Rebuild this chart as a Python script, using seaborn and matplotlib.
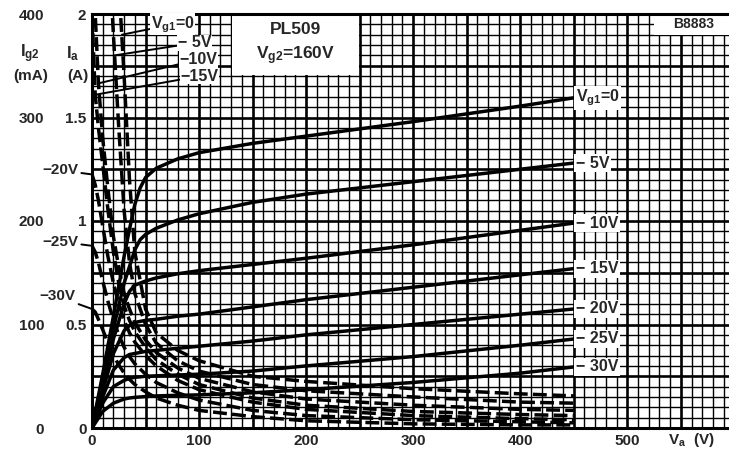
import numpy as np
import seaborn as sns
import matplotlib.pyplot as plt
from matplotlib.patches import Rectangle

# Anodenstrom Ia (A) ueber Va (V), je Vg1
va_ia = [0, 10, 20, 30, 35, 40, 45, 50, 60, 80, 100, 150, 200, 300, 400, 450]
ia_g0 = [0, 0.26, 0.54, 0.83, 0.96, 1.08, 1.16, 1.21, 1.255, 1.30, 1.33, 1.375, 1.41, 1.48, 1.555, 1.595]
ia_g5 = [0, 0.23, 0.48, 0.70, 0.78, 0.86, 0.91, 0.935, 0.965, 1.005, 1.035, 1.09, 1.13, 1.19, 1.25, 1.28]
ia_g10 = [0, 0.21, 0.43, 0.60, 0.66, 0.69, 0.70, 0.71, 0.725, 0.745, 0.76, 0.79, 0.82, 0.885, 0.955, 0.99]
ia_g15 = [0, 0.18, 0.36, 0.47, 0.495, 0.51, 0.515, 0.52, 0.525, 0.54, 0.55, 0.585, 0.62, 0.68, 0.74, 0.77]
ia_g20 = [0, 0.15, 0.28, 0.34, 0.355, 0.36, 0.365, 0.37, 0.375, 0.385, 0.395, 0.42, 0.45, 0.50, 0.55, 0.575]
ia_g25 = [0, 0.12, 0.20, 0.23, 0.24, 0.245, 0.247, 0.25, 0.252, 0.256, 0.26, 0.275, 0.30, 0.345, 0.40, 0.43]
ia_g30 = [0, 0.08, 0.12, 0.14, 0.145, 0.148, 0.15, 0.152, 0.155, 0.158, 0.16, 0.17, 0.185, 0.22, 0.265, 0.295]

# Schirmgitterstrom Ig2 (mA) ueber Va (V), je Vg1 (gestrichelt)
va_ig2 = [0, 3, 6, 10, 15, 20, 25, 30, 35, 40, 50, 60, 80, 100, 150, 200, 300, 400, 450]
ig2_g0 = [700, 700, 680, 640, 580, 500, 430, 340, 240, 170, 115, 92, 75, 65, 50, 45, 38, 33, 31]
ig2_g5 = [650, 640, 610, 560, 480, 380, 290, 210, 160, 130, 100, 82, 65, 55, 42, 36, 30, 25, 24]
ig2_g10 = [470, 400, 333, 280, 230, 185, 155, 130, 115, 102, 85, 73, 58, 48, 35, 28, 22, 18, 17]
ig2_g15 = [400, 322, 290, 255, 210, 170, 140, 118, 104, 93, 78, 66, 52, 42, 29, 22, 16, 13, 12]
ig2_g20 = [245, 235, 220, 195, 165, 140, 120, 104, 92, 83, 70, 60, 46, 37, 25, 18, 12, 9, 8]
ig2_g25 = [176, 170, 160, 142, 122, 104, 90, 78, 69, 62, 52, 44, 34, 27, 17, 12, 8, 6, 5]
ig2_g30 = [115, 112, 105, 95, 82, 70, 61, 53, 47, 42, 35, 29, 22, 17, 11, 7, 4, 3, 3]

ia_curves = [ia_g0, ia_g5, ia_g10, ia_g15, ia_g20, ia_g25, ia_g30]
ig2_curves = [ig2_g0, ig2_g5, ig2_g10, ig2_g15, ig2_g20, ig2_g25, ig2_g30]
ia_labels = ["V$_{g1}$=0", "− 5V", "− 10V", "− 15V", "− 20V", "− 25V", "− 30V"]

x_ticks = [0, 100, 200, 300, 400, 500]
ia_ticks = [0, 0.5, 1, 1.5, 2]
ia_tick_labels = ["0", "0.5", "1", "1.5", "2"]
ig2_ticks = [0, 100, 200, 300, 400]

sns.set_style("white")
plt.rcParams["font.family"] = ["Liberation Sans", "DejaVu Sans"]
plt.rcParams["font.weight"] = "bold"
plt.rcParams["mathtext.fontset"] = "custom"
plt.rcParams["mathtext.rm"] = "Liberation Sans:bold"
plt.rcParams["mathtext.it"] = "Liberation Sans:bold"
plt.rcParams["mathtext.bf"] = "Liberation Sans:bold"

fig = plt.figure(figsize=(7.29, 4.5), dpi=100)
ax = fig.add_axes([92 / 729, 22 / 450, 637 / 729, 414 / 450])
ax.set_xlim(0, 595)
ax.set_ylim(0, 2)

# Raster: fein 10 V / 0.05 A, kraeftig 50 V / 0.25 A
ax.set_xticks(np.arange(0, 600, 50))
ax.set_xticklabels([str(v) if v in x_ticks else "" for v in np.arange(0, 600, 50)])
ax.set_xticks(np.arange(0, 600, 10), minor=True)
ax.set_yticks(np.arange(0, 2.01, 0.25))
ax.set_yticklabels([ia_tick_labels[ia_ticks.index(v)] if v in ia_ticks else "" for v in np.arange(0, 2.01, 0.25)])
ax.set_yticks(np.arange(0, 2.01, 0.05), minor=True)
ax.grid(which="major", color="black", lw=1.9)
ax.grid(which="minor", color="black", lw=1.0)
ax.set_axisbelow(True)
ax.tick_params(which="both", length=0, labelsize=11)
ax.tick_params(axis="x", pad=4)
ax.tick_params(axis="y", pad=4)
for s in ["left", "bottom", "top"]:
    ax.spines[s].set_linewidth(2.2)
    ax.spines[s].set_color("black")
ax.spines["right"].set_visible(False)

sec = ax.secondary_yaxis(-0.075, functions=(lambda a: a * 200, lambda m: m / 200))
sec.set_yticks(ig2_ticks)
sec.tick_params(length=0, pad=0, labelsize=11)
sec.spines["left"].set_visible(False)

for ia, ig2 in zip(ia_curves, ig2_curves):
    sns.lineplot(x=va_ia, y=ia, ax=ax, color="black", lw=2.5, sort=False, zorder=3)
    sns.lineplot(x=va_ig2, y=np.array(ig2) / 200, ax=ax, color="black", lw=2.5,
                 linestyle=(0, (4, 1.5)), sort=False, zorder=3)

# Beschriftung rechts am Kurvenende
for ia, lab in zip(ia_curves, ia_labels):
    ax.text(va_ia[-1] + 2, ia[-1], lab, ha="left", va="center", fontsize=11.5, zorder=5,
            bbox=dict(fc="white", ec="none", pad=1))

# Beschriftung Ig2 oben links
top_labels = ["V$_{g1}$=0", "− 5V", "−10V", "−15V"]
top_text_xy = [(55, 1.95), (80, 1.86), (82, 1.78), (83, 1.70)]
top_point = [(28, 380), (21, 360), (6, 333), (3, 322)]
for lab, (tx, ty), (px, pm) in zip(top_labels, top_text_xy, top_point):
    ax.annotate(lab, xy=(px, pm / 200), xytext=(tx, ty), ha="left", va="center", fontsize=11.5,
                zorder=5, bbox=dict(fc="white", ec="none", pad=0.5),
                arrowprops=dict(arrowstyle="-", lw=1.4, color="black", shrinkA=0, shrinkB=0))

# Beschriftung Ig2 links an der Achse
left_labels = ["−20V", "−25V", "−30V"]
left_offsets = [(-10, 3), (-10, 3), (-12, 9)]
for lab, ig2, off in zip(left_labels, ig2_curves[4:], left_offsets):
    ax.annotate(lab, xy=(0, ig2[0] / 200), xytext=off, textcoords="offset points",
                ha="right", va="center", fontsize=11, annotation_clip=False,
                arrowprops=dict(arrowstyle="-", lw=1.4, color="black", shrinkA=0, shrinkB=0))

# Typenkasten und Kennzeichen
ax.add_patch(Rectangle((131, 1.705), 118, 0.3, fc="white", ec="none", zorder=2))
ax.text(190, 1.925, "PL509", ha="center", va="center", fontsize=12.5, zorder=5)
ax.text(190, 1.8, "V$_{g2}$=160V", ha="center", va="center", fontsize=12.5, zorder=5)
ax.add_patch(Rectangle((525, 1.9), 75, 0.11, fc="white", ec="none", zorder=2))
ax.text(562, 1.953, "B8883", ha="center", va="center", fontsize=10, zorder=5)

# Achsentitel
ax.text(-0.097, 0.905, "I$_{g2}$", transform=ax.transAxes, ha="center", va="center", fontsize=12)
ax.text(-0.097, 0.85, "(mA)", transform=ax.transAxes, ha="center", va="center", fontsize=11)
ax.text(-0.02, 0.905, "I$_a$", transform=ax.transAxes, ha="right", va="center", fontsize=12)
ax.text(-0.005, 0.85, "(A)", transform=ax.transAxes, ha="right", va="center", fontsize=11)
ax.text(560, -0.06, "V$_a$  (V)", ha="center", va="center", fontsize=11, clip_on=False)

fig.savefig("out.png", dpi=100)
